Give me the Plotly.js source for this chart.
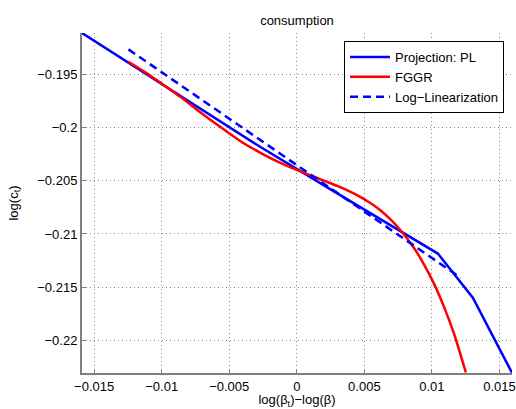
<!DOCTYPE html>
<html>
<head>
<meta charset="utf-8">
<script src="https://cdn.plot.ly/plotly-3.0.1.min.js"></script>
<style>html,body{margin:0;padding:0;background:#fff;}#chart{width:516px;height:409px;}</style>
</head>
<body>
<div id="chart"></div>
<script>
// Projection: PL (piecewise linear)
const plX = [-0.0159, -0.00937, -0.00269, 0.0025, 0.00769, 0.01044, 0.01303, 0.01593];
const plY = [-0.19112, -0.19644, -0.20183, -0.20581, -0.20977, -0.21184, -0.21598, -0.22304];

// FGGR
const fgX = [-0.012462, -0.01122, -0.010111, -0.008501, -0.00727, -0.006402, -0.005163, -0.003932, -0.002693, -0.001454, -0.000223, 0.001016, 0.002003, 0.002997, 0.003984, 0.004725, 0.005467, 0.006209, 0.006951, 0.007692, 0.008679, 0.009421, 0.010163, 0.010905, 0.011646, 0.012514];
const fgY = [-0.193823, -0.194812, -0.195782, -0.197222, -0.198446, -0.199266, -0.200395, -0.201478, -0.202373, -0.203173, -0.203861, -0.204491, -0.20499, -0.20549, -0.206045, -0.206535, -0.207109, -0.207787, -0.208653, -0.20967, -0.211318, -0.212872, -0.214689, -0.216874, -0.219397, -0.223013];

// Log-Linearization
const llX = [-0.01246, 0.01214];
const llY = [-0.19266, -0.21412];

const seriesNames = ['Projection: PL', 'FGGR', 'Log\u2212Linearization'];
const xTicks = [-0.015, -0.01, -0.005, 0, 0.005, 0.01, 0.015];
const yTicks = [-0.22, -0.215, -0.21, -0.205, -0.2, -0.195];

const FONT = 'Liberation Sans, Arial, Helvetica, sans-serif';
const AX = '#808080';

const traces = [
  {x: plX, y: plY, mode: 'lines', name: seriesNames[0], line: {color: '#0000ff', width: 2.5}},
  {x: fgX, y: fgY, mode: 'lines', name: seriesNames[1], line: {color: '#ff0000', width: 2.5, shape: 'spline', smoothing: 0.6}},
  {x: llX, y: llY, mode: 'lines', name: seriesNames[2], line: {color: '#0000ff', width: 2.5, dash: '8px,5px'}}
];

const axisCommon = {
  showgrid: true, gridcolor: '#8c8c8c', gridwidth: 1, griddash: '1px,3px',
  zeroline: false, showline: true, linecolor: AX, linewidth: 2,
  ticks: 'inside', ticklen: 4, tickcolor: AX, tickwidth: 1,
  tickfont: {family: FONT, size: 13, color: '#000'},
  automargin: false, mirror: false
};

const layout = {
  width: 516, height: 409,
  margin: {l: 82, r: 4, t: 33, b: 36},
  paper_bgcolor: '#fff', plot_bgcolor: '#fff',
  font: {family: FONT, size: 13, color: '#000'},
  title: {text: 'consumption', font: {family: FONT, size: 13, color: '#000'},
          xref: 'paper', x: 0.5, xanchor: 'center', yref: 'container', y: 0.951, yanchor: 'middle'},
  xaxis: Object.assign({}, axisCommon, {
    range: [-0.0159, 0.01593], tickmode: 'array', tickvals: xTicks,
    title: {text: 'log(\u03b2<sub>t</sub>)\u2212log(\u03b2)', font: {family: FONT, size: 13, color: '#000'}, standoff: 1}
  }),
  yaxis: Object.assign({}, axisCommon, {
    range: [-0.22306, -0.19112], tickmode: 'array', tickvals: yTicks,
    title: {text: 'log(c<sub>t</sub>)', font: {family: FONT, size: 13, color: '#000'}, standoff: 16}
  }),
  showlegend: true,
  legend: {
    x: 0.6093, y: 0.9765, xanchor: 'left', yanchor: 'top',
    bgcolor: '#fff', bordercolor: '#000', borderwidth: 1,
    font: {family: FONT, size: 13, color: '#000'},
    itemwidth: 40, tracegroupgap: 0
  }
};

Plotly.newPlot('chart', traces, layout, {displayModeBar: false, staticPlot: true});
</script>
</body>
</html>
